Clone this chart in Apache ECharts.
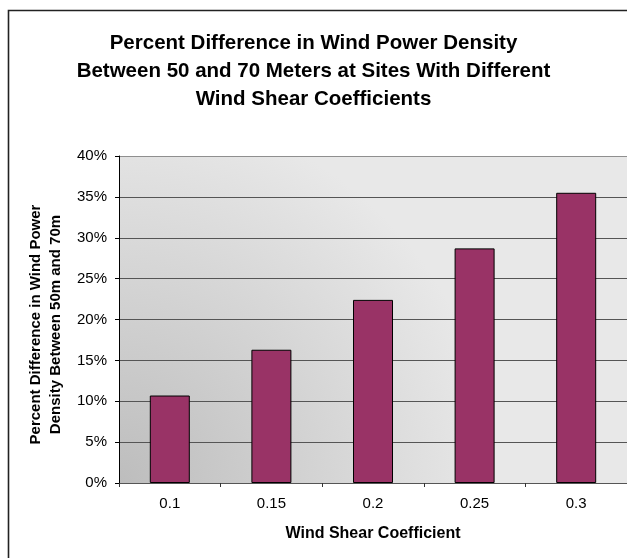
<!DOCTYPE html>
<html>
<head>
<meta charset="utf-8">
<title>Wind Power Density Difference</title>
<script src="https://cdn.jsdelivr.net/npm/echarts@6/dist/echarts.min.js"></script>
<style>
  html, body { margin: 0; padding: 0; background: #ffffff; }
  #chart { width: 627px; height: 558px; }
</style>
</head>
<body>
<div id="chart"></div>
<script>
// Wind shear coefficients (categories) and percent increase in power density 50 m -> 70 m
const shearCoefficients = ['0.1', '0.15', '0.2', '0.25', '0.3'];
const percentDifference = [0.107, 0.163, 0.224, 0.287, 0.355];

const titleLines = [
  'Percent Difference in Wind Power Density',
  'Between 50 and 70 Meters at Sites With Different',
  'Wind Shear Coefficients'
];
const yAxisTitle = ['Percent Difference in Wind Power', 'Density Between 50m and 70m'];
const xAxisTitle = 'Wind Shear Coefficient';

const FONT = 'Arial, "Liberation Sans", sans-serif';

// gridline colours, bottom (0%) to top (40%); the top edge is drawn lighter
const gridColors = ['#555555', '#555555', '#555555', '#555555', '#555555',
                    '#555555', '#555555', '#555555', '#8f8f8f'];

const chart = echarts.init(document.getElementById('chart'), null, { renderer: 'canvas' });

chart.setOption({
  animation: false,
  backgroundColor: '#ffffff',
  title: {
    text: titleLines.join('\n'),
    left: 'center',
    top: 24,
    padding: [5, 5, 5, 31],
    textStyle: {
      fontFamily: FONT,
      fontSize: 20.5,
      fontWeight: 'bold',
      color: '#000000',
      lineHeight: 28
    }
  },
  graphic: [
    {
      // chart area frame
      type: 'rect',
      shape: { x: 8.5, y: 10.5, width: 700, height: 700 },
      style: { fill: null, stroke: '#222222', lineWidth: 1.6 },
      silent: true,
      z: 0
    }
  ],
  grid: {
    left: 119,
    top: 156,
    width: 508,
    height: 327,
    show: true,
    borderWidth: 0,
    backgroundColor: new echarts.graphic.RadialGradient(0, 1, 1.15, [
      { offset: 0, color: '#bdbdbd' },
      { offset: 1, color: '#e8e8e8' }
    ])
  },
  xAxis: {
    type: 'category',
    data: shearCoefficients,
    name: xAxisTitle,
    nameLocation: 'middle',
    nameGap: 43,
    nameTextStyle: { fontFamily: FONT, fontSize: 16, fontWeight: 'bold', color: '#000' },
    axisLine: { show: true, lineStyle: { color: '#555555', width: 1 } },
    axisTick: { show: true, length: 4, lineStyle: { color: '#333333' } },
    axisLabel: { margin: 13, fontFamily: FONT, fontSize: 15, color: '#000' },
    splitLine: { show: false }
  },
  yAxis: {
    type: 'value',
    min: 0,
    max: 0.4,
    interval: 0.05,
    name: yAxisTitle.join('\n'),
    nameLocation: 'middle',
    nameRotate: 90,
    nameGap: 52,
    nameTextStyle: {
      fontFamily: FONT, fontSize: 15, fontWeight: 'bold', color: '#000',
      lineHeight: 20, padding: [0, 10, 0, 0]
    },
    axisLine: { show: true, lineStyle: { color: '#000000', width: 1 } },
    axisTick: { show: true, length: 4, lineStyle: { color: '#000000' } },
    axisLabel: {
      margin: 12,
      fontFamily: FONT,
      fontSize: 15,
      color: '#000',
      formatter: v => Math.round(v * 100) + '%'
    },
    splitLine: { show: true, lineStyle: { color: gridColors, width: 1 } }
  },
  series: [
    {
      type: 'bar',
      data: percentDifference,
      barWidth: 40,
      itemStyle: { color: '#993366', borderColor: '#000000', borderWidth: 1 }
    }
  ]
});
</script>
</body>
</html>
